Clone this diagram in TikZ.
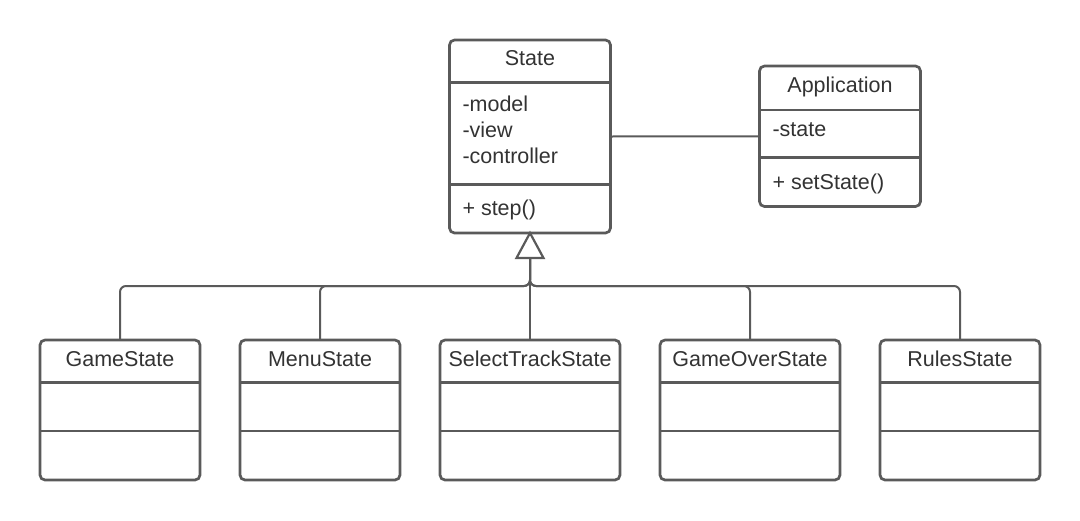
\documentclass[tikz,border=0pt]{standalone}
\usepackage{fontspec}
\setmainfont{Liberation Sans}
\definecolor{linec}{HTML}{5A5A5A}
\definecolor{txtc}{HTML}{333333}
\begin{document}
\begin{tikzpicture}[x=1pt,y=-1pt,
  classbox/.style={draw=linec, line width=2.7pt, rounded corners=5pt, fill=white,
    outer sep=0pt, inner sep=0pt, anchor=north west},
  sep/.style={draw=linec, line width=2.7pt},
  conn/.style={draw=linec, line width=2pt, rounded corners=6pt},
  lbl/.style={text=txtc, font=\fontsize{21.5}{26}\selectfont, inner sep=0pt, outer sep=0pt}
]
\useasboundingbox (0,0) rectangle (1080,520);
% State
\node[classbox, minimum width=161pt, minimum height=193pt] (state) at (449.5,40) {};
\draw[sep] (state.west |- 0,82.3) -- (state.east |- 0,82.3);
\draw[sep] (state.west |- 0,184.3) -- (state.east |- 0,184.3);
\node[lbl, anchor=base] (stateT) at (530,65) {State};
\node[lbl, anchor=base west] (stateA1) at (462.5,111.5) {-model};
\node[lbl, anchor=base west] (stateA2) at (462.5,137.5) {-view};
\node[lbl, anchor=base west] (stateA3) at (462.5,163.5) {-controller};
\node[lbl, anchor=base west] (stateM) at (462.5,215) {+ step()};
% Application
\node[classbox, minimum width=161pt, minimum height=140.5pt] (app) at (759.5,66) {};
\draw[sep] (app.west |- 0,110) -- (app.east |- 0,110);
\draw[sep] (app.west |- 0,157.5) -- (app.east |- 0,157.5);
\node[lbl, anchor=base] (appT) at (840,92.5) {Application};
\node[lbl, anchor=base west] (appA) at (772.5,136.5) {-state};
\node[lbl, anchor=base west] (appM) at (772.5,189) {+ setState()};
% association
\draw[conn] (state.east) -- (app.west);
% subclasses
\foreach \nm/\x/\w/\t in {game/40/160/GameState, menu/240/160/MenuState,
    select/440/180/SelectTrackState, over/660/180/GameOverState, rules/880/160/RulesState}{
  \node[classbox, minimum width=\w pt, minimum height=140pt] (\nm) at (\x,340) {};
  \draw[sep] (\nm.west |- 0,382.3) -- (\nm.east |- 0,382.3);
  \draw[sep] (\nm.west |- 0,431) -- (\nm.east |- 0,431);
  \node[lbl, anchor=base] (\nm T) at (\nm.north |- 0,366) {\t};
}
% generalization
\coordinate (tribase) at (530,258);
\draw[conn, rounded corners=0pt, line width=2.2pt, fill=white] (state.south) -- ([xshift=13.5pt]tribase) -- ([xshift=-13.5pt]tribase) -- cycle;
\draw[conn] (select.north) -- (tribase);
\foreach \nm in {game, menu, over, rules}{
  \draw[conn] (\nm.north) -- ++(0,-54) -| (tribase);
}
\end{tikzpicture}
\end{document}
